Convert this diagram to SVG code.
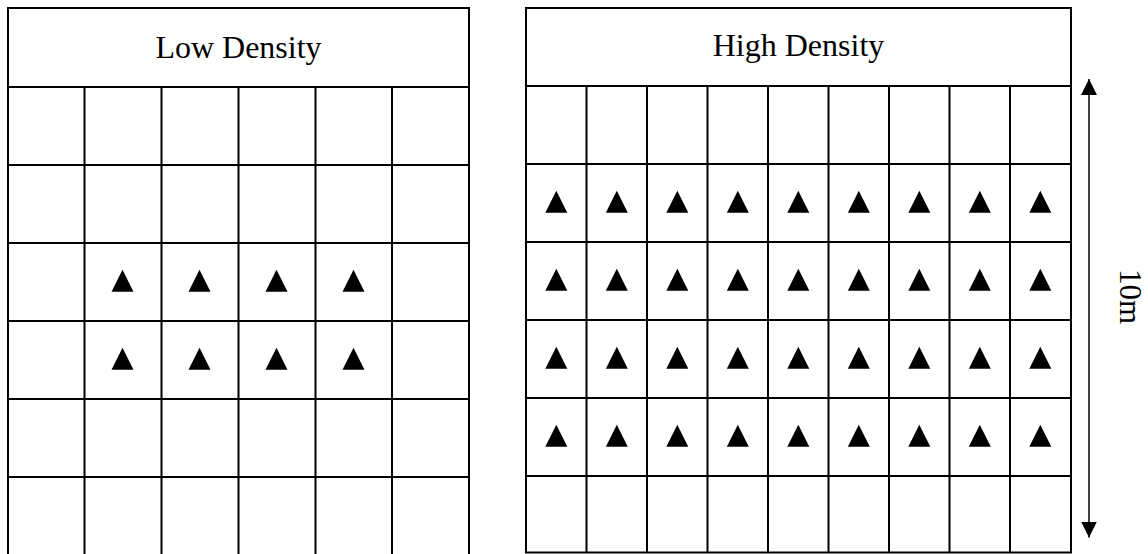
<svg xmlns="http://www.w3.org/2000/svg" xmlns:xlink="http://www.w3.org/1999/xlink" width="1148" height="554" viewBox="0 0 1148 554">
<style>
.grid{fill:none;stroke:#000;stroke-width:2}
.lbl{font-family:"Liberation Serif","Times New Roman",serif;font-size:32px;fill:#000}
.conn{stroke:#000;stroke-width:1.5;fill:none}
</style>
<defs>
<polygon id="tri" points="0,-11.3 11,10.8 -11,10.8" fill="#000"/>
<marker id="ah" markerUnits="userSpaceOnUse" markerWidth="16" markerHeight="16" viewBox="0 0 15 15" refX="15" refY="7.5" orient="auto-start-reverse">
<path d="M0,0 L15,7.5 L0,15 Z" fill="#000"/>
</marker>
</defs>
<rect width="1148" height="554" fill="#fff"/>
<g id="low-density">
<rect class="grid" x="8" y="8" width="461" height="548"/>
<path class="grid" d="M8,87H469 M8,165H469 M8,243H469 M8,321H469 M8,399H469 M8,477H469 M84.5,87V556 M161.5,87V556 M238.5,87V556 M315.5,87V556 M392,87V556"/>
<text class="lbl" x="238.5" y="57.5" text-anchor="middle">Low Density</text>
<use xlink:href="#tri" x="122.5" y="281"/><use xlink:href="#tri" x="199.5" y="281"/><use xlink:href="#tri" x="276.5" y="281"/><use xlink:href="#tri" x="353.5" y="281"/>
<use xlink:href="#tri" x="122.5" y="359"/><use xlink:href="#tri" x="199.5" y="359"/><use xlink:href="#tri" x="276.5" y="359"/><use xlink:href="#tri" x="353.5" y="359"/>
</g>
<g id="high-density">
<rect class="grid" x="526" y="8" width="545" height="544.5"/>
<path class="grid" d="M526,86H1071 M526,164H1071 M526,242H1071 M526,320H1071 M526,398H1071 M526,476H1071 M586.5,86V552.5 M647,86V552.5 M707.5,86V552.5 M768,86V552.5 M828.5,86V552.5 M889,86V552.5 M949.5,86V552.5 M1010,86V552.5"/>
<text class="lbl" x="798.5" y="56" text-anchor="middle">High Density</text>
<g id="hd-triangles">
<use xlink:href="#tri" x="556.3" y="202"/><use xlink:href="#tri" x="616.8" y="202"/><use xlink:href="#tri" x="677.3" y="202"/><use xlink:href="#tri" x="737.8" y="202"/><use xlink:href="#tri" x="798.3" y="202"/><use xlink:href="#tri" x="858.8" y="202"/><use xlink:href="#tri" x="919.3" y="202"/><use xlink:href="#tri" x="979.8" y="202"/><use xlink:href="#tri" x="1040.3" y="202"/>
<use xlink:href="#tri" x="556.3" y="280"/><use xlink:href="#tri" x="616.8" y="280"/><use xlink:href="#tri" x="677.3" y="280"/><use xlink:href="#tri" x="737.8" y="280"/><use xlink:href="#tri" x="798.3" y="280"/><use xlink:href="#tri" x="858.8" y="280"/><use xlink:href="#tri" x="919.3" y="280"/><use xlink:href="#tri" x="979.8" y="280"/><use xlink:href="#tri" x="1040.3" y="280"/>
<use xlink:href="#tri" x="556.3" y="358"/><use xlink:href="#tri" x="616.8" y="358"/><use xlink:href="#tri" x="677.3" y="358"/><use xlink:href="#tri" x="737.8" y="358"/><use xlink:href="#tri" x="798.3" y="358"/><use xlink:href="#tri" x="858.8" y="358"/><use xlink:href="#tri" x="919.3" y="358"/><use xlink:href="#tri" x="979.8" y="358"/><use xlink:href="#tri" x="1040.3" y="358"/>
<use xlink:href="#tri" x="556.3" y="436"/><use xlink:href="#tri" x="616.8" y="436"/><use xlink:href="#tri" x="677.3" y="436"/><use xlink:href="#tri" x="737.8" y="436"/><use xlink:href="#tri" x="798.3" y="436"/><use xlink:href="#tri" x="858.8" y="436"/><use xlink:href="#tri" x="919.3" y="436"/><use xlink:href="#tri" x="979.8" y="436"/><use xlink:href="#tri" x="1040.3" y="436"/>
</g>
</g>
<g id="connectors">
<line class="conn" x1="1089" y1="79" x2="1089" y2="537.5" marker-start="url(#ah)" marker-end="url(#ah)"/>
</g>
<g id="scale-label">
<text class="lbl" style="font-size:31px" transform="translate(1120,296.5) rotate(90)" text-anchor="middle">10m</text>
</g>
</svg>
